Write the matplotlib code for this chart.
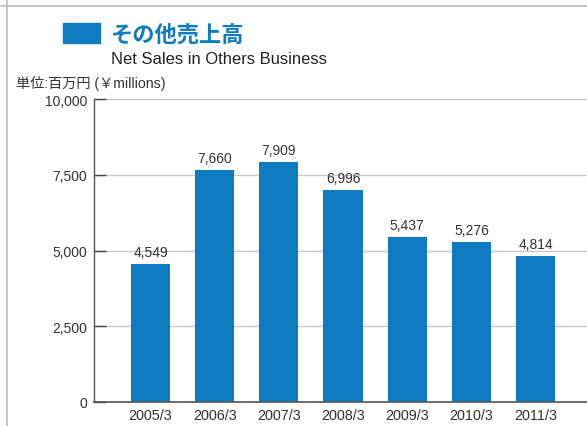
import matplotlib
matplotlib.use("Agg")
import matplotlib.pyplot as plt
from matplotlib.patches import Rectangle
from matplotlib.lines import Line2D

categories = ["2005/3", "2006/3", "2007/3", "2008/3", "2009/3", "2010/3", "2011/3"]
values = [4549, 7660, 7909, 6996, 5437, 5276, 4814]
yticks = [0, 2500, 5000, 7500, 10000]
title_ja = "その他売上高"
title_en = "Net Sales in Others Business"
unit_label = "単位:百万円 (￥millions)"

BLUE = "#0F7BC1"
FONTS = ["Liberation Sans", "Noto Sans CJK JP", "DejaVu Sans"]
plt.rcParams["font.family"] = FONTS

W, H = 587, 427
fig = plt.figure(figsize=(W / 100, H / 100), dpi=100)

# axes: left spine x=94, top (10000) y=100, bottom (0) y=403, right = figure edge
ax = fig.add_axes([94 / W, 1 - 403 / H, (W - 94) / W, (403 - 100) / H])
x = list(range(len(categories)))
ax.bar(x, values, width=0.61, color=BLUE, zorder=3)
ax.set_xlim(-0.88, 6.8)
ax.set_ylim(0, 10000)
ax.set_yticks(yticks)
ax.set_yticklabels([f"{v:,}" for v in yticks], fontsize=10, color="#333333")
ax.set_xticks(x)
ax.set_xticklabels(categories, fontsize=10.4, color="#333333")
ax.tick_params(axis="y", direction="in", length=8.5, width=1.0, color="#444444", pad=5)
ax.tick_params(axis="x", length=0, pad=4)
for v in yticks[1:]:
    ax.axhline(v, color="#c8c8c8", lw=1.0, zorder=1)
for s in ["top", "right"]:
    ax.spines[s].set_visible(False)
ax.spines["left"].set_color("#555555")
ax.spines["bottom"].set_color("#555555")
ax.spines["left"].set_linewidth(1.0)
ax.spines["bottom"].set_linewidth(1.2)
ax.spines["bottom"].set_zorder(4)

for xi, v in zip(x, values):
    ax.annotate(f"{v:,}", (xi, v), xytext=(0, 3.5), textcoords="offset points",
                ha="center", va="bottom", fontsize=10, color="#333333")

# frame lines
fig.add_artist(Line2D([0, 1], [1 - 7 / H, 1 - 7 / H], color="#bbbbbb", lw=1.2, transform=fig.transFigure))
fig.add_artist(Line2D([7 / W, 7 / W], [0, 1], color="#bbbbbb", lw=1.2, transform=fig.transFigure))

# title block
fig.add_artist(Rectangle((63 / W, 1 - 44 / H), 37 / W, 20 / H, color=BLUE, transform=fig.transFigure))
fig.text(110 / W, 1 - 35.5 / H, title_ja, fontsize=16, color=BLUE, fontweight="bold",
         va="center", ha="left", family=["Noto Sans CJK JP", "DejaVu Sans"])
fig.text(111 / W, 1 - 60 / H, title_en, fontsize=11.9, color="#222222", va="center", ha="left")
fig.text(16 / W, 1 - 83 / H, unit_label, fontsize=10.2, color="#333333", va="center", ha="left")

fig.savefig("out.png", dpi=100)
